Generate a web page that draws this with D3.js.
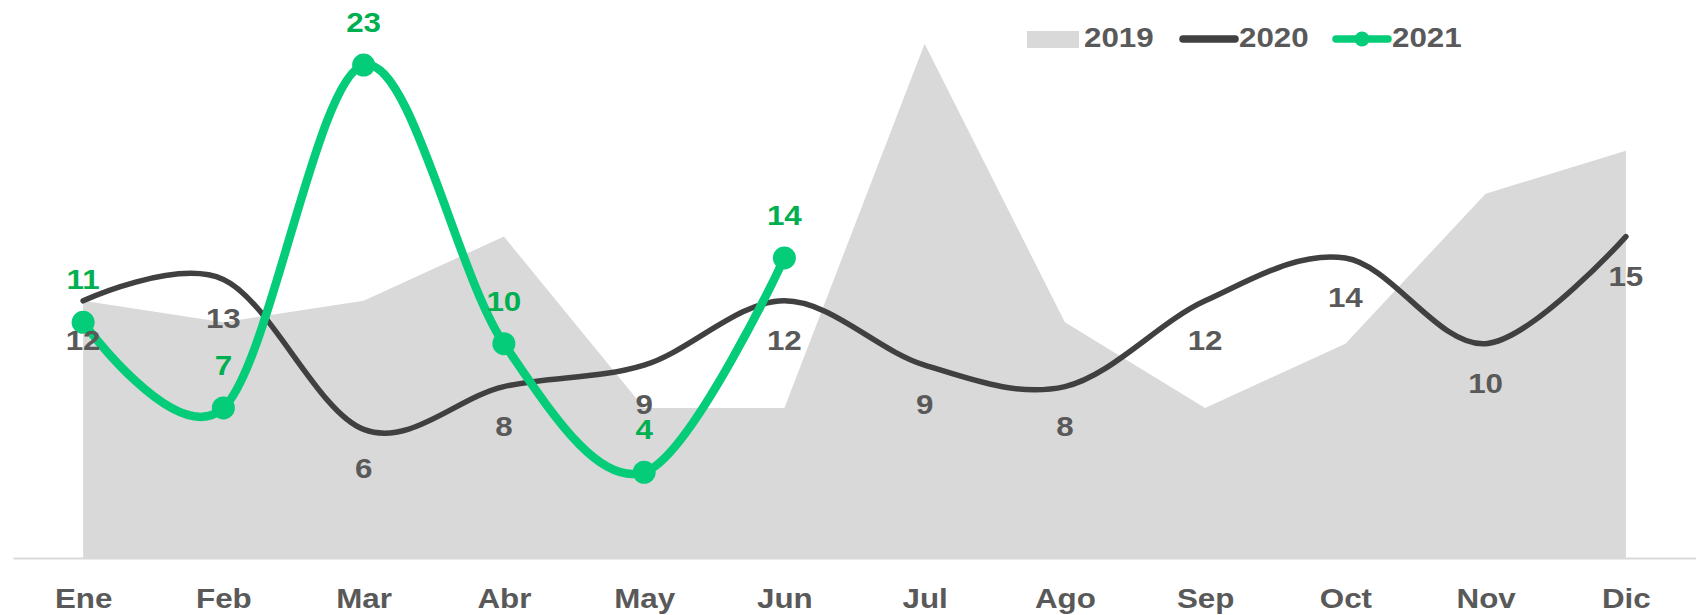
<!DOCTYPE html>
<html>
<head>
<meta charset="utf-8">
<script src="https://cdn.jsdelivr.net/npm/d3@7"></script>
<style>
  html, body { margin: 0; padding: 0; background: #fff; }
  svg text { font-family: "Liberation Sans", Arial, sans-serif; font-weight: bold; }
</style>
</head>
<body>
<div id="chart"></div>
<script>
(function () {
  'use strict';

  var months = ['Ene', 'Feb', 'Mar', 'Abr', 'May', 'Jun', 'Jul', 'Ago', 'Sep', 'Oct', 'Nov', 'Dic'];
  var values2019 = [12, 11, 12, 15, 7, 7, 24, 11, 7, 10, 17, 19];
  var values2020 = [12, 13, 6, 8, 9, 12, 9, 8, 12, 14, 10, 15];
  var values2021 = [11, 7, 23, 10, 4, 14];
  var seriesNames = ['2019', '2020', '2021'];

  var width = 1696, height = 615;
  var fontSize = 28, stretch = 1.12;
  var gray = '#d9d9d9', dark = '#404040', green = '#05cc79', greenText = '#00b050', textGray = '#595959';

  var svg = d3.select('#chart').append('svg').attr('width', width).attr('height', height);

  var x = d3.scalePoint().domain(months).range([13, width]).padding(0.5);
  var y = d3.scaleLinear().domain([0, 25]).range([558, 22.25]);

  function pts(vals) { return vals.map(function (v, i) { return { m: months[i], v: v }; }); }
  var d19 = pts(values2019), d20 = pts(values2020), d21 = pts(values2021);

  // 2019 area
  var area = d3.area().x(function (d) { return x(d.m); }).y0(y(0)).y1(function (d) { return y(d.v); });
  svg.append('path').datum(d19).attr('d', area).attr('fill', gray);

  // x axis
  var axis = svg.append('g').attr('transform', 'translate(0,' + y(0) + ')')
    .call(d3.axisBottom(x).tickSize(0).tickSizeOuter(0));
  axis.select('.domain').attr('stroke', gray).attr('stroke-width', 2);
  axis.selectAll('.tick text')
    .attr('y', 50).attr('dy', null)
    .attr('transform', 'scale(' + stretch + ',1)')
    .attr('fill', textGray).attr('font-size', fontSize)
    .attr('font-family', '"Liberation Sans", Arial, sans-serif').attr('font-weight', 'bold');

  var smooth = d3.line().x(function (d) { return x(d.m); }).y(function (d) { return y(d.v); }).curve(d3.curveCatmullRom.alpha(0));

  // 2020 line
  svg.append('path').datum(d20).attr('d', smooth).attr('fill', 'none')
    .attr('stroke', dark).attr('stroke-width', 5.5).attr('stroke-linecap', 'round');

  // 2021 line + markers
  svg.append('path').datum(d21).attr('d', smooth).attr('fill', 'none')
    .attr('stroke', green).attr('stroke-width', 8.5).attr('stroke-linecap', 'round');
  svg.selectAll('.m21').data(d21).enter().append('circle')
    .attr('cx', function (d) { return x(d.m); }).attr('cy', function (d) { return y(d.v); })
    .attr('r', 11.5).attr('fill', green);

  function label(px, py, txt, color, anchor) {
    svg.append('g').attr('transform', 'translate(' + px + ',' + py + ')')
      .append('text').attr('transform', 'scale(' + stretch + ',1)')
      .attr('text-anchor', anchor || 'middle').attr('font-size', fontSize)
      .attr('fill', color).text(txt);
  }

  // data labels
  d20.forEach(function (d) { label(x(d.m), y(d.v) + 49, d.v, textGray); });
  d21.forEach(function (d) { label(x(d.m), y(d.v) - 33, d.v, greenText); });

  // legend
  var lg = svg.append('g').attr('transform', 'translate(1027,0)');
  seriesNames.forEach(function (name, i) {
    var g = lg.append('g').attr('transform', 'translate(' + (i * 153) + ',0)');
    if (i === 0) {
      g.append('rect').attr('x', 0).attr('y', 31).attr('width', 52).attr('height', 17).attr('fill', gray);
    } else {
      g.append('line').attr('x1', 3).attr('x2', 55).attr('y1', 39).attr('y2', 39)
        .attr('stroke', i === 1 ? dark : green).attr('stroke-width', 7.5).attr('stroke-linecap', 'round');
      if (i === 2) g.append('circle').attr('cx', 29).attr('cy', 39).attr('r', 7.5).attr('fill', green);
    }
    g.append('g').attr('transform', 'translate(' + (i === 0 ? 57 : 59) + ',47)')
      .append('text').attr('transform', 'scale(' + stretch + ',1)')
      .attr('font-size', fontSize).attr('fill', textGray).text(name);
  });
})();
</script>
</body>
</html>
